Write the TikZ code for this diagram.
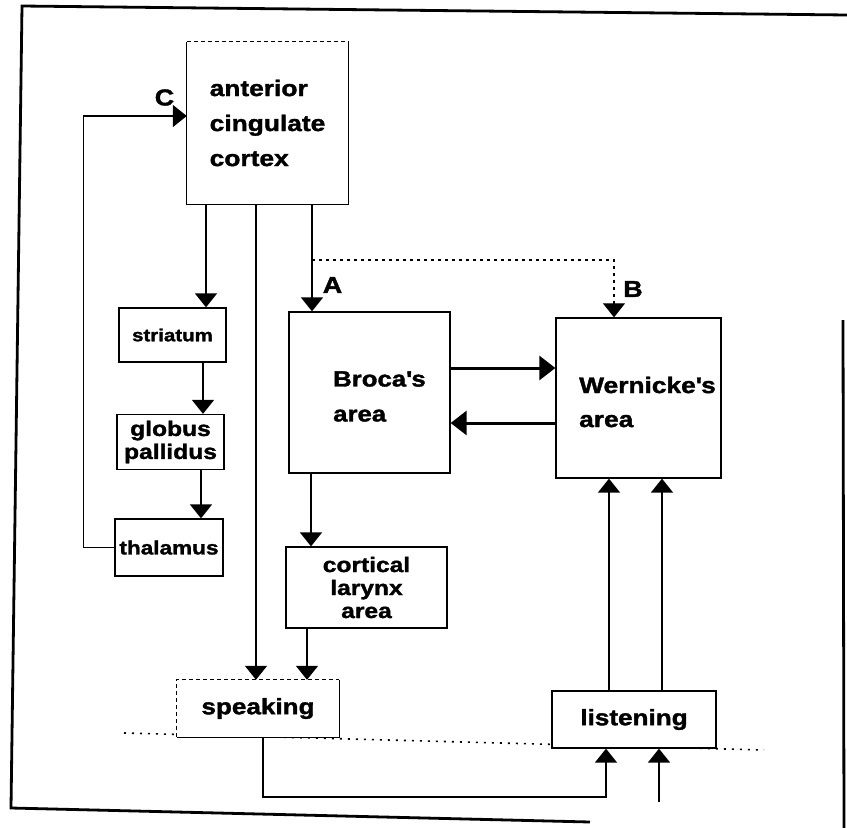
\documentclass[tikz,border=0pt]{standalone}
\usepackage{fontspec}
\setmainfont{Liberation Sans}[FakeStretch=1.17, BoldFeatures={FakeBold=1.6}]
\usetikzlibrary{arrows.meta}
\newcommand{\apos}{\textquotesingle}
\begin{document}
\begin{tikzpicture}[x=1pt,y=-1pt,
  box/.style={draw, line width=1.3pt, fill=white, inner sep=0pt, align=center},
  nobox/.style={draw=none, fill=white, inner sep=0pt},
  boxline/.style={line width=1.3pt},
  fdash/.style={line width=1.1pt, dash pattern=on 4pt off 3pt},
  txt/.style={inner sep=0pt, align=left},
  arr/.style={line width=1.6pt, -{Triangle[width=22pt,length=14pt]}},
  bigarr/.style={line width=3pt, -{Triangle[width=24pt,length=16pt]}},
  dotarr/.style={line width=1.2pt, dash pattern=on 2.5pt off 4.5pt, -{Triangle[width=22pt,length=14pt]}},
  dotline/.style={line width=1.6pt, dash pattern=on 2pt off 6pt},
  frame/.style={line width=2.8pt},
  lbl/.style={inner sep=0pt, font=\bfseries\fontsize{23}{26}\selectfont}]
\useasboundingbox (0,0) rectangle (847,828);
% frame
\draw[frame] (847,15) -- (22,6) -- (11,808) -- (590,822);
\draw[frame] (843,320) -- (844,828);
% ground line
\draw[dotline] (124,733) -- (764,750);
% boxes
\node[nobox, minimum width=161pt, minimum height=162pt, align=left,
      font=\bfseries\fontsize{22.5}{35}\selectfont] (acc) at (267.5,123) {anterior\\cingulate\\cortex};
\draw[boxline] (acc.north east) -- (acc.south east) -- (acc.south west) -- (acc.north west);
\draw[fdash] (acc.north west) -- (acc.north east);
\node[box, minimum width=107pt, minimum height=54pt, font=\bfseries\fontsize{17.5}{21}\selectfont] (striatum) at (172.5,335) {striatum};
\node[box, minimum width=107pt, minimum height=55pt, font=\bfseries\fontsize{21}{23}\selectfont] (globus) at (170.5,442) {globus\\pallidus};
\node[box, minimum width=108pt, minimum height=57pt, font=\bfseries\fontsize{19.3}{23}\selectfont] (thalamus) at (169,547.5) {thalamus};
\node[box, minimum width=161pt, minimum height=161pt] (broca) at (369.5,392.5) {};
\node[txt, anchor=west, font=\bfseries\fontsize{22}{35}\selectfont] (brocat) at (333,396.5) {Broca\apos s\\area};
\node[box, minimum width=165pt, minimum height=160pt] (wernicke) at (638.5,398) {};
\node[txt, anchor=west, font=\bfseries\fontsize{22.5}{34}\selectfont] (wernicket) at (579,402) {Wernicke\apos s\\area};
\node[box, minimum width=161pt, minimum height=81pt, font=\bfseries\fontsize{21}{23}\selectfont] (larynx) at (366.5,587.5) {cortical\\larynx\\area};
\node[nobox, minimum width=162pt, minimum height=57pt, font=\bfseries\fontsize{22.3}{26}\selectfont] (speaking) at (258,708.5) {speaking};
\draw[boxline] (speaking.north east) -- (speaking.south east) -- (speaking.south west);
\draw[fdash] (speaking.south west) -- (speaking.north west) -- (speaking.north east);
\node[box, minimum width=164pt, minimum height=57pt, font=\bfseries\fontsize{22.3}{26}\selectfont] (listening) at (634,719.5) {listening};
% labels
\node[lbl] (labC) at (164.5,97.5) {C};
\node[lbl] (labA) at (332.5,285) {A};
\node[lbl] (labB) at (633,289) {B};
% connectors
\draw[arr] (acc.south -| 206,0) -- (striatum.north -| 206,0);
\draw[arr] (striatum.south -| 203,0) -- (globus.north -| 203,0);
\draw[arr] (globus.south -| 201,0) -- (thalamus.north -| 201,0);
\draw[arr] (thalamus.west) -- ++(-31,0) |- (acc.west |- 0,116);
\draw[arr] (acc.south -| 256,0) -- (speaking.north -| 256,0);
\draw[arr] (acc.south -| 312,0) -- (broca.north -| 312,0);
\coordinate (dA) at (312,260);
\draw[dotarr] (dA) -| (wernicke.north -| 614,0);
\draw[bigarr] (broca.east |- 0,368) -- (wernicke.west |- 0,368);
\draw[bigarr] (wernicke.west |- 0,423) -- (broca.east |- 0,423);
\draw[arr] (broca.south -| 311,0) -- (larynx.north -| 311,0);
\draw[arr] (larynx.south -| 307,0) -- (speaking.north -| 307,0);
\draw[arr] (listening.north -| 609,0) -- (wernicke.south -| 609,0);
\draw[arr] (listening.north -| 662,0) -- (wernicke.south -| 662,0);
\draw[arr] (speaking.south -| 263,0) -- (263,797) -| (listening.south -| 606,0);
\coordinate (inp) at (659,802);
\draw[arr] (inp) -- (listening.south -| 659,0);
\end{tikzpicture}
\end{document}
